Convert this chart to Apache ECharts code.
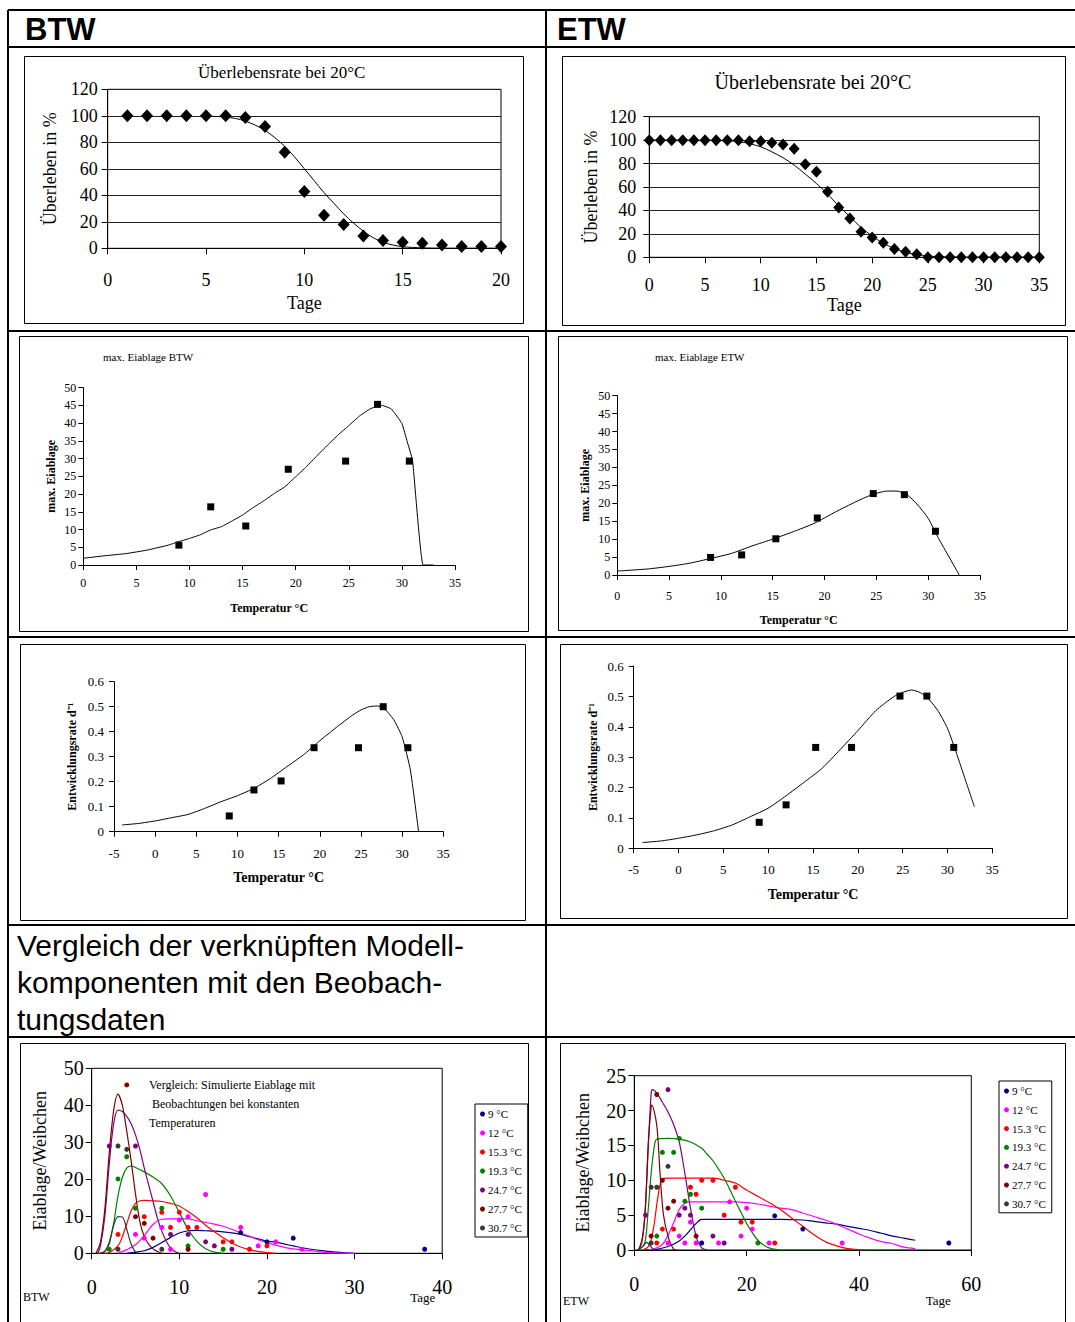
<!DOCTYPE html>
<html><head><meta charset="utf-8">
<script src="https://cdn.jsdelivr.net/npm/echarts@6/dist/echarts.min.js"></script>
<style>html,body{margin:0;padding:0;background:#fff}#c{width:1075px;height:1322px}</style>
</head><body><div id="c"></div>
<script>
// ---------- DATA ----------
// Panel 1: BTW survival at 20 °C
const btwSurvDays = [1,2,3,4,5,6,7,8,9,10,11,12,13,14,15,16,17,18,19,20];
const btwSurvObs  = [100,100,100,100,100,100,98.7,91.9,72.5,42.8,24.9,17.9,9.3,5.8,4.5,3.8,2.5,1.3,1.3,1.3];
const btwSurvModelDays = [5,5.5,6,6.5,7,7.5,8,8.5,9,9.5,10,10.5,11,11.5,12,12.5,13,13.5,14,14.5,15,16,17,18,19,20];
const btwSurvModel     = [99.7,99.5,99,98,96,93,89,83.5,77,69,60,51,42,34,26,19,13,8,4.5,2.5,1.2,0.3,0,0,0,0];
// Panel 2: ETW survival at 20 °C
const etwSurvDays = [0,1,2,3,4,5,6,7,8,9,10,11,12,13,14,15,16,17,18,19,20,21,22,23,24,25,26,27,28,29,30,31,32,33,34,35];
const etwSurvObs  = [100,100,100,100,100,100,100,100,100,99.1,99,97.7,96.3,92.6,79.5,73,56,42.6,33.2,21.9,17,12.5,7.1,4.8,2.6,0,0,0,0,0,0,0,0,0,0,0];
const etwSurvModelDays = [0,2,4,6,7,8,9,10,11,12,13,14,15,16,17,18,19,20,21,22,23,24,25,26,27,28,30,32,35];
const etwSurvModel     = [100,100,99.9,99.7,99.4,98.8,97,94.3,90,85,78.7,71,63,54,43.8,34.7,25.6,18.2,12,7.4,4.3,2.3,1.1,0.5,0.2,0,0,0,0];
// Observation temperatures
const obsTemps = [9,12,15.3,19.3,24.7,27.7,30.7];
// Panel 3: max. Eiablage BTW
const btwMaxObs = [5.6,16.4,11.0,27.0,29.3,45.3,29.3];
const btwMaxModelT = [0,2,4,6,8,9,10,11,12,13,14,15,16,17,18,19,20,21,22,23,24,25,26,27,28,29,30,30.5,31,32,33];
const btwMaxModel  = [1.9,2.6,3.2,4.2,5.6,6.6,7.5,8.5,9.9,10.8,12.4,14.1,16.2,18.1,20.2,22.1,24.9,27.7,30.8,33.8,36.7,39.3,42,44,45.1,44,39.9,34.8,29.5,0,0];
// Panel 4: max. Eiablage ETW
const etwMaxObs = [4.9,5.6,10.1,15.9,22.7,22.4,12.2];
const etwMaxModelT = [0,3,5,7,9,11,13,15,17,19,21,23,24.5,26,27,28,29,30,31,32,33];
const etwMaxModel  = [1.1,1.7,2.4,3.3,4.6,6.0,8.1,10.0,12.1,14.4,17.5,20.4,22.3,23.4,23.4,22.3,19.5,15.8,10.2,5.1,0];
// Panel 5: Entwicklungsrate BTW
const btwDevObs = [0.063,0.167,0.203,0.336,0.336,0.5,0.336];
const btwDevModelT = [-4,-2,0,2,4,6,8,10,12,14,16,18,20,22,24,25,26,27,28,29,30,31,32];
const btwDevModel  = [0.027,0.033,0.043,0.056,0.069,0.093,0.12,0.144,0.173,0.213,0.26,0.307,0.364,0.417,0.467,0.487,0.5,0.503,0.487,0.447,0.38,0.247,0];
// Panel 6: Entwicklungsrate ETW
const etwDevObs = [0.0855,0.143,0.332,0.332,0.501,0.501,0.332];
const etwDevModelT = [-4,-2,0,2,4,6,8,10,12,14,16,18,20,22,24,25,26,27,28,29,30,31,32,33];
const etwDevModel  = [0.019,0.024,0.033,0.044,0.058,0.077,0.104,0.132,0.173,0.217,0.263,0.324,0.387,0.453,0.499,0.513,0.521,0.512,0.488,0.45,0.395,0.313,0.225,0.137];

// Panels 7/8: egg laying per female, series names
const tempNames = ['9 °C','12 °C','15.3 °C','19.3 °C','24.7 °C','27.7 °C','30.7 °C'];
// BTW observations [day, eggs]
const btwObs9   = [[17,5.6],[20,3.1],[23,4.1],[38,1.1]];
const btwObs12  = [[5,5.1],[6,4.1],[8,7.0],[9,1.1],[10,9.0],[11,9.9],[13,15.9],[17,7.0],[19,2.0],[21,3.1],[24,1.1]];
const btwObs153 = [[3,5.1],[6,9.9],[8,11.1],[9,7.0],[10,11.1],[11,7.0],[12,7.0],[15,3.1],[16,3.1],[18,1.1],[20,2.0]];
const btwObs193 = [[2,1.1],[3,20.1],[4,26.1],[5,12.2],[8,12.2],[11,2.0],[15,1.1]];
const btwObs247 = [[2,29.0],[5,29.0],[9,5.1],[11,5.1],[13,3.1],[14,2.0],[16,1.1]];
const btwObs277 = [[4,45.5],[5,9.9],[6,8.1],[7,4.1],[11,1.1]];
const btwObs307 = [[3,29.0],[4,28.1],[3,1.1],[8,1.1]];
// BTW model curves [day, eggs]
const btwModel9   = [[4,0],[5,0.3],[6,0.7],[7,1.6],[8,2.9],[9,4.3],[10,5.5],[11,6.1],[12,6.2],[13,6.1],[14,6],[15,5.8],[16,5.5],[17,5.1],[18,4.5],[19,3.9],[20,3.3],[21,3.0],[22,2.5],[23,2.0],[24,1.5],[25,1.1],[26,0.8],[27,0.5],[28,0.3],[29,0.1],[30,0]];
const btwModel12  = [[3,0],[4,1],[5,2.3],[6,4.8],[7,7.8],[8,9.2],[9,9.3],[10,9.3],[11,9.3],[12,8.8],[13,8.4],[14,7.9],[15,7.3],[16,6.5],[17,5.5],[18,4.6],[19,3.7],[20,2.9],[21,2.2],[22,1.6],[23,1.2],[24,0.9],[25,0.7],[26,0.4],[27,0.2],[28,0.1],[30,0]];
const btwModel153 = [[1.5,0],[2,0.2],[3,2],[3.5,4.5],[4,8],[4.5,11.5],[5,13.5],[5.5,14.2],[6,14.3],[7,14.2],[8,14],[9,13.5],[10,12.8],[11,11.3],[12,9.6],[13,7.6],[14,5.8],[15,4.2],[16,2.8],[17,1.7],[18,1],[19,0.5],[20,0.2],[21,0]];
const btwModel193 = [[0.8,0],[1.5,0.5],[2,2.5],[2.5,8],[3,15.5],[3.5,20.5],[4,23],[4.5,23.6],[5,23.2],[6,22],[7,20.6],[8,18.8],[9,15.5],[10,11],[11,6.5],[12,3.2],[13,1.2],[14,0.3],[15,0]];
const btwModel247 = [[0.7,0],[1,2],[1.5,10],[2,24],[2.5,35],[3,38.7],[3.5,38.3],[4,37],[4.5,35],[5,32],[5.5,28],[6,23],[6.5,18.5],[7,14],[7.5,9.5],[8,6],[8.5,3.3],[9,1.4],[9.5,0.5],[10,0]];
const btwModel277 = [[0.5,0],[1,3],[1.5,12],[2,27],[2.5,38.5],[3,43],[3.5,40],[4,33],[4.5,25],[5,16],[5.5,8.5],[6,4.5],[6.5,2.5],[7,1.2],[7.5,0.5],[8,0]];
const btwModel307 = [[1,0],[1.5,0.5],[2,3],[2.5,7.5],[3,9.9],[3.5,9.8],[4,6.5],[4.5,2.5],[5,0.3],[5.3,0]];
// ETW observations [day, eggs]
const etwObs9   = [[12,1],[25,4.9],[30,3],[56,1]];
const etwObs12  = [[6,1],[8,2],[9,1],[10,4],[11,1],[15,1],[17,6.9],[19,2],[20,6],[21,3],[24,1],[37,1]];
const etwObs153 = [[4,1],[5,3],[7,3],[10,9],[11,8],[12,10],[14,10],[16,5],[18,9],[19,4],[21,4],[25,1]];
const etwObs193 = [[4,2],[5,14],[7,14],[8,16],[9,7],[10,8],[12,6],[22,1]];
const etwObs247 = [[2,5],[6,23],[8,5],[9,6],[10,5],[14,2],[16,1]];
const etwObs277 = [[3,2],[4,22.3],[5,10],[6,6],[7,7],[11,2]];
const etwObs307 = [[3,1],[3,9],[4,9],[6,12]];
// ETW model curves [day, eggs]
const etwModel9   = [[2,0],[4,0.1],[6,0.5],[8,1.3],[9,2],[10,2.9],[11,3.8],[12,4.4],[20,4.4],[26,4.4],[30,4.3],[32,4.1],[34,3.9],[36,3.7],[38,3.4],[40,3.1],[42,2.8],[44,2.4],[46,2.0],[48,1.7],[50,1.4]];
const etwModel12  = [[2.5,0],[4,0.3],[5,0.8],[6,2.1],[7,3.9],[8,5.8],[9,6.7],[10,6.9],[14,6.9],[18,6.9],[20,6.8],[22,6.6],[24,6.3],[26,6.0],[28,5.8],[30,5.3],[32,4.8],[34,4.3],[36,3.7],[38,3.0],[40,2.3],[42,1.7],[44,1.2],[46,0.9],[48,0.4],[50,0.2]];
const etwModel153 = [[1.5,0],[2.5,0.5],[3,1.5],[3.5,3.5],[4,6.5],[4.5,9],[5,10.2],[6,10.3],[10,10.3],[14,10.3],[16,10],[18,9.6],[20,8.6],[22,7.7],[24,6.8],[26,5.8],[28,4.6],[30,3.4],[32,2.2],[34,1.2],[36,0.6],[38,0.2],[41,0]];
const etwModel193 = [[0.8,0],[1.5,0.5],[2,1.5],[2.5,6],[3,11],[3.5,14.5],[4,15.9],[6,16],[8,15.9],[10,15.5],[12,14.6],[13,13.7],[14,12.8],[15,11.6],[16,10.3],[17,8.7],[18,7],[19,5.4],[20,3.8],[21,2.5],[22,1.4],[23,0.7],[24,0.3],[26,0],[50,0]];
const etwModel247 = [[0.8,0],[1.5,2],[2,6.5],[2.5,15],[3,22.5],[3.2,23],[4,22.5],[5,21.2],[6,19.8],[7,18],[8,15.5],[9,11],[10,6],[11,2],[12,0.3],[13,0]];
const etwModel277 = [[0.7,0],[1.3,1],[1.9,5],[2.5,15.5],[3,20.6],[3.1,20.8],[4,17.9],[4.6,10.8],[5.2,5],[6.1,1.7],[7,0.1],[7.5,0]];
const etwModel307 = [[0.5,0],[1.5,0.5],[2.2,1.1],[2.8,0.6],[3.5,0]];

// ---------- STYLE ----------
const SERIF = '"Liberation Serif","Times New Roman",serif';
const SANS = '"Liberation Sans",Arial,sans-serif';
const tempColors = ['#000080','#FF00FF','#FF0000','#008000','#800080','#800000','#383838'];

function zip(xs, ys){ return xs.map((x,i)=>[x, ys[i]]); }

function axis(gi, o){
  const a = {
    type:'value', gridIndex:gi, min:o.min, max:o.max, interval:o.interval,
    axisLine:{show:true, onZero:false, lineStyle:{color:'#000', width:1}},
    axisTick:{show:true, inside:false, length:o.tick||5, lineStyle:{color:'#000', width:1}},
    axisLabel:{color:'#000', fontFamily:SERIF, fontSize:o.fs, margin:o.margin},
    splitLine:{show:!!o.split, lineStyle:{color:'#222', width:1}},
    nameLocation:'middle'
  };
  if (o.fmt) a.axisLabel.formatter = o.fmt;
  if (o.name){
    a.name = o.name; a.nameGap = o.nameGap;
    a.nameTextStyle = {color:'#000', fontFamily:SERIF, fontSize:o.nfs, fontWeight:o.bold?'bold':'normal'};
  }
  return a;
}
const fmt1 = v => String(+v.toFixed(1));
const boxed = {show:true, borderColor:'#000', borderWidth:1, backgroundColor:'transparent'};

const grids = [
  Object.assign({left:107.7, top:89.3, width:393.3, height:159}, boxed),
  Object.assign({left:649.3, top:116.7, width:390, height:140.6}, boxed),
  {left:83.3, top:387.7, width:371.7, height:177.3},
  {left:617.3, top:395.7, width:362.7, height:179.3},
  {left:114, top:681.7, width:329.3, height:150},
  {left:633.7, top:666, width:358.6, height:182.3},
  Object.assign({left:91.7, top:1068.3, width:350.5, height:185}, boxed),
  Object.assign({left:634.3, top:1075.7, width:337, height:174.3}, boxed)
];

const xAxes = [
  axis(0,{min:0,max:20,interval:5,fs:18,margin:23,tick:6,name:'Tage',nameGap:46,nfs:18}),
  axis(1,{min:0,max:35,interval:5,fs:18,margin:19,tick:6,name:'Tage',nameGap:39,nfs:18}),
  axis(2,{min:0,max:35,interval:5,fs:12,margin:12,name:'Temperatur °C',nameGap:37,nfs:12,bold:true}),
  axis(3,{min:0,max:35,interval:5,fs:12,margin:15,name:'Temperatur °C',nameGap:39,nfs:12,bold:true}),
  axis(4,{min:-5,max:35,interval:5,fs:13,margin:15,name:'Temperatur °C',nameGap:39,nfs:14,bold:true}),
  axis(5,{min:-5,max:35,interval:5,fs:13,margin:15,name:'Temperatur °C',nameGap:39,nfs:14,bold:true}),
  axis(6,{min:0,max:40,interval:10,fs:20,margin:24,tick:6}),
  axis(7,{min:0,max:60,interval:20,fs:20,margin:24,tick:6})
];
const yAxes = [
  axis(0,{min:0,max:120,interval:20,fs:18,margin:10,tick:6,split:true,name:'Überleben in %',nameGap:49,nfs:18}),
  axis(1,{min:0,max:120,interval:20,fs:18,margin:13,tick:6,split:true,name:'Überleben in %',nameGap:49,nfs:18}),
  axis(2,{min:0,max:50,interval:5,fs:12,margin:7,name:'max. Eiablage',nameGap:26,nfs:12,bold:true}),
  axis(3,{min:0,max:50,interval:5,fs:12,margin:7,name:'max. Eiablage',nameGap:26,nfs:12,bold:true}),
  axis(4,{min:0,max:0.6,interval:0.1,fs:13,margin:10,fmt:fmt1,name:'Entwicklungsrate d⁻¹',nameGap:36,nfs:12,bold:true}),
  axis(5,{min:0,max:0.6,interval:0.1,fs:13,margin:10,fmt:fmt1,name:'Entwicklungsrate d⁻¹',nameGap:35,nfs:12,bold:true}),
  axis(6,{min:0,max:50,interval:10,fs:20,margin:8,tick:6,name:'Eiablage/Weibchen',nameGap:43,nfs:18}),
  axis(7,{min:0,max:25,interval:5,fs:20,margin:8,tick:6,name:'Eiablage/Weibchen',nameGap:42,nfs:18})
];

function modelLine(gi, data, name, color, w, sm){
  return {type:'line', name:name, xAxisIndex:gi, yAxisIndex:gi, data:data, symbol:'none',
    smooth:(sm===undefined?0.3:sm), lineStyle:{color:color||'#000', width:w||1}, itemStyle:{color:color||'#000'}, silent:true, z:2};
}
function obsScatter(gi, data, name, symbol, size, color){
  return {type:'scatter', name:name, xAxisIndex:gi, yAxisIndex:gi, data:data, symbol:symbol,
    symbolSize:size, itemStyle:{color:color||'#000', opacity:1}, silent:true, z:3};
}

const series = [
  modelLine(0, zip(btwSurvModelDays, btwSurvModel), 'BTW Modell Überleben'),
  obsScatter(0, zip(btwSurvDays, btwSurvObs), 'BTW Überleben', 'diamond', [12,13]),
  modelLine(1, zip(etwSurvModelDays, etwSurvModel), 'ETW Modell Überleben'),
  obsScatter(1, zip(etwSurvDays, etwSurvObs), 'ETW Überleben', 'diamond', [11,12]),
  modelLine(2, zip(btwMaxModelT, btwMaxModel), 'BTW Modell max. Eiablage', '#000', 1, 0.12),
  obsScatter(2, zip(obsTemps, btwMaxObs), 'BTW max. Eiablage', 'rect', 7),
  modelLine(3, zip(etwMaxModelT, etwMaxModel), 'ETW Modell max. Eiablage', '#000', 1, 0.2),
  obsScatter(3, zip(obsTemps, etwMaxObs), 'ETW max. Eiablage', 'rect', 7),
  modelLine(4, zip(btwDevModelT, btwDevModel), 'BTW Modell Entwicklungsrate', '#000', 1, 0.15),
  obsScatter(4, zip(obsTemps, btwDevObs), 'BTW Entwicklungsrate', 'rect', 7),
  modelLine(5, zip(etwDevModelT, etwDevModel), 'ETW Modell Entwicklungsrate', '#000', 1, 0.2),
  obsScatter(5, zip(obsTemps, etwDevObs), 'ETW Entwicklungsrate', 'rect', 7)
];
const btwModels = [btwModel9, btwModel12, btwModel153, btwModel193, btwModel247, btwModel277, btwModel307];
const btwObs = [btwObs9, btwObs12, btwObs153, btwObs193, btwObs247, btwObs277, btwObs307];
const etwModels = [etwModel9, etwModel12, etwModel153, etwModel193, etwModel247, etwModel277, etwModel307];
const etwObs = [etwObs9, etwObs12, etwObs153, etwObs193, etwObs247, etwObs277, etwObs307];
tempNames.forEach((n,i)=>{
  series.push(modelLine(6, btwModels[i], 'BTW Modell ' + n, tempColors[i], 1.2));
  series.push(modelLine(7, etwModels[i], 'ETW Modell ' + n, tempColors[i], 1.2));
});
tempNames.forEach((n,i)=>{
  series.push(obsScatter(6, btwObs[i], n, 'circle', 5, tempColors[i]));
  series.push(obsScatter(7, etwObs[i], n, 'circle', 5, tempColors[i]));
});

function legendAt(left, top, gap){
  return {show:true, data:tempNames, orient:'vertical', left:left, top:top, itemGap:gap,
    itemWidth:5, itemHeight:5, icon:'circle', selectedMode:false,
    padding:[4,6,3,5], borderColor:'#000', borderWidth:1, backgroundColor:'#fff',
    textStyle:{color:'#000', fontFamily:SERIF, fontSize:11, lineHeight:12, padding:[0,0,0,-2]}};
}

// ---------- GRAPHIC (table, frames, texts) ----------
const g = [];
function hline(y, x1, x2, w){ g.push({type:'line', shape:{x1:x1, y1:y, x2:x2, y2:y}, style:{stroke:'#000', lineWidth:w||2}, silent:true}); }
function vline(x, y1, y2, w){ g.push({type:'line', shape:{x1:x, y1:y1, x2:x, y2:y2}, style:{stroke:'#000', lineWidth:w||2}, silent:true}); }
function frame(x, y, w, h){ g.push({type:'rect', shape:{x:x+0.5, y:y+0.5, width:w, height:h}, style:{stroke:'#000', fill:'none', lineWidth:1}, silent:true}); }
function txt(t, x, y, size, family, opts){
  opts = opts || {};
  g.push({type:'text', x:x, y:y, silent:true, z:10,
    style:{text:t, fill:'#000', fontSize:size, fontFamily:family, fontWeight:opts.bold?'bold':'normal',
      textAlign:opts.align||'left', textVerticalAlign:'middle'}});
}
[10,47,331,637,925,1037].forEach(y=>hline(y, 8, 1075));
vline(8, 10, 1322); vline(546, 10, 1322);
frame(24,56,499,267); frame(562,56,503,269);
frame(19,336,509,295); frame(558,336,509,294);
frame(20,644,505,276); frame(560,644,507,274);
frame(20,1043,508,300); frame(560,1043,505,300);

txt('BTW', 25, 29, 31, SANS, {bold:true});
txt('ETW', 557, 29, 31, SANS, {bold:true});
txt('Überlebensrate bei 20°C', 281.7, 72, 17, SERIF, {align:'center'});
txt('Überlebensrate bei 20°C', 813, 82, 20, SERIF, {align:'center'});
txt('max. Eiablage BTW', 103, 357, 11, SERIF);
txt('max. Eiablage ETW', 655, 357, 11, SERIF);
txt('Vergleich der verknüpften Modell-', 17, 945, 30, SANS);
txt('komponenten mit den Beobach-', 17, 982, 30, SANS);
txt('tungsdaten', 17, 1019, 30, SANS);
txt('Vergleich: Simulierte Eiablage mit', 149, 1085, 12, SERIF);
txt('Beobachtungen bei konstanten', 152, 1104, 12, SERIF);
txt('Temperaturen', 149, 1123, 12, SERIF);
txt('Tage', 422.7, 1297, 13, SERIF, {align:'center'});
txt('Tage', 938.3, 1300, 13, SERIF, {align:'center'});
txt('BTW', 23, 1297, 12, SERIF);
txt('ETW', 563, 1301, 12, SERIF);

const option = {
  animation:false,
  backgroundColor:'#fff',
  textStyle:{fontFamily:SERIF},
  tooltip:{show:false},
  grid:grids, xAxis:xAxes, yAxis:yAxes,
  legend:[legendAt(475, 1104, 7), legendAt(999, 1081, 6.8)],
  series:series,
  graphic:g
};
const chart = echarts.init(document.getElementById('c'), null, {renderer:'svg', width:1075, height:1322});
chart.setOption(option);
</script></body></html>
